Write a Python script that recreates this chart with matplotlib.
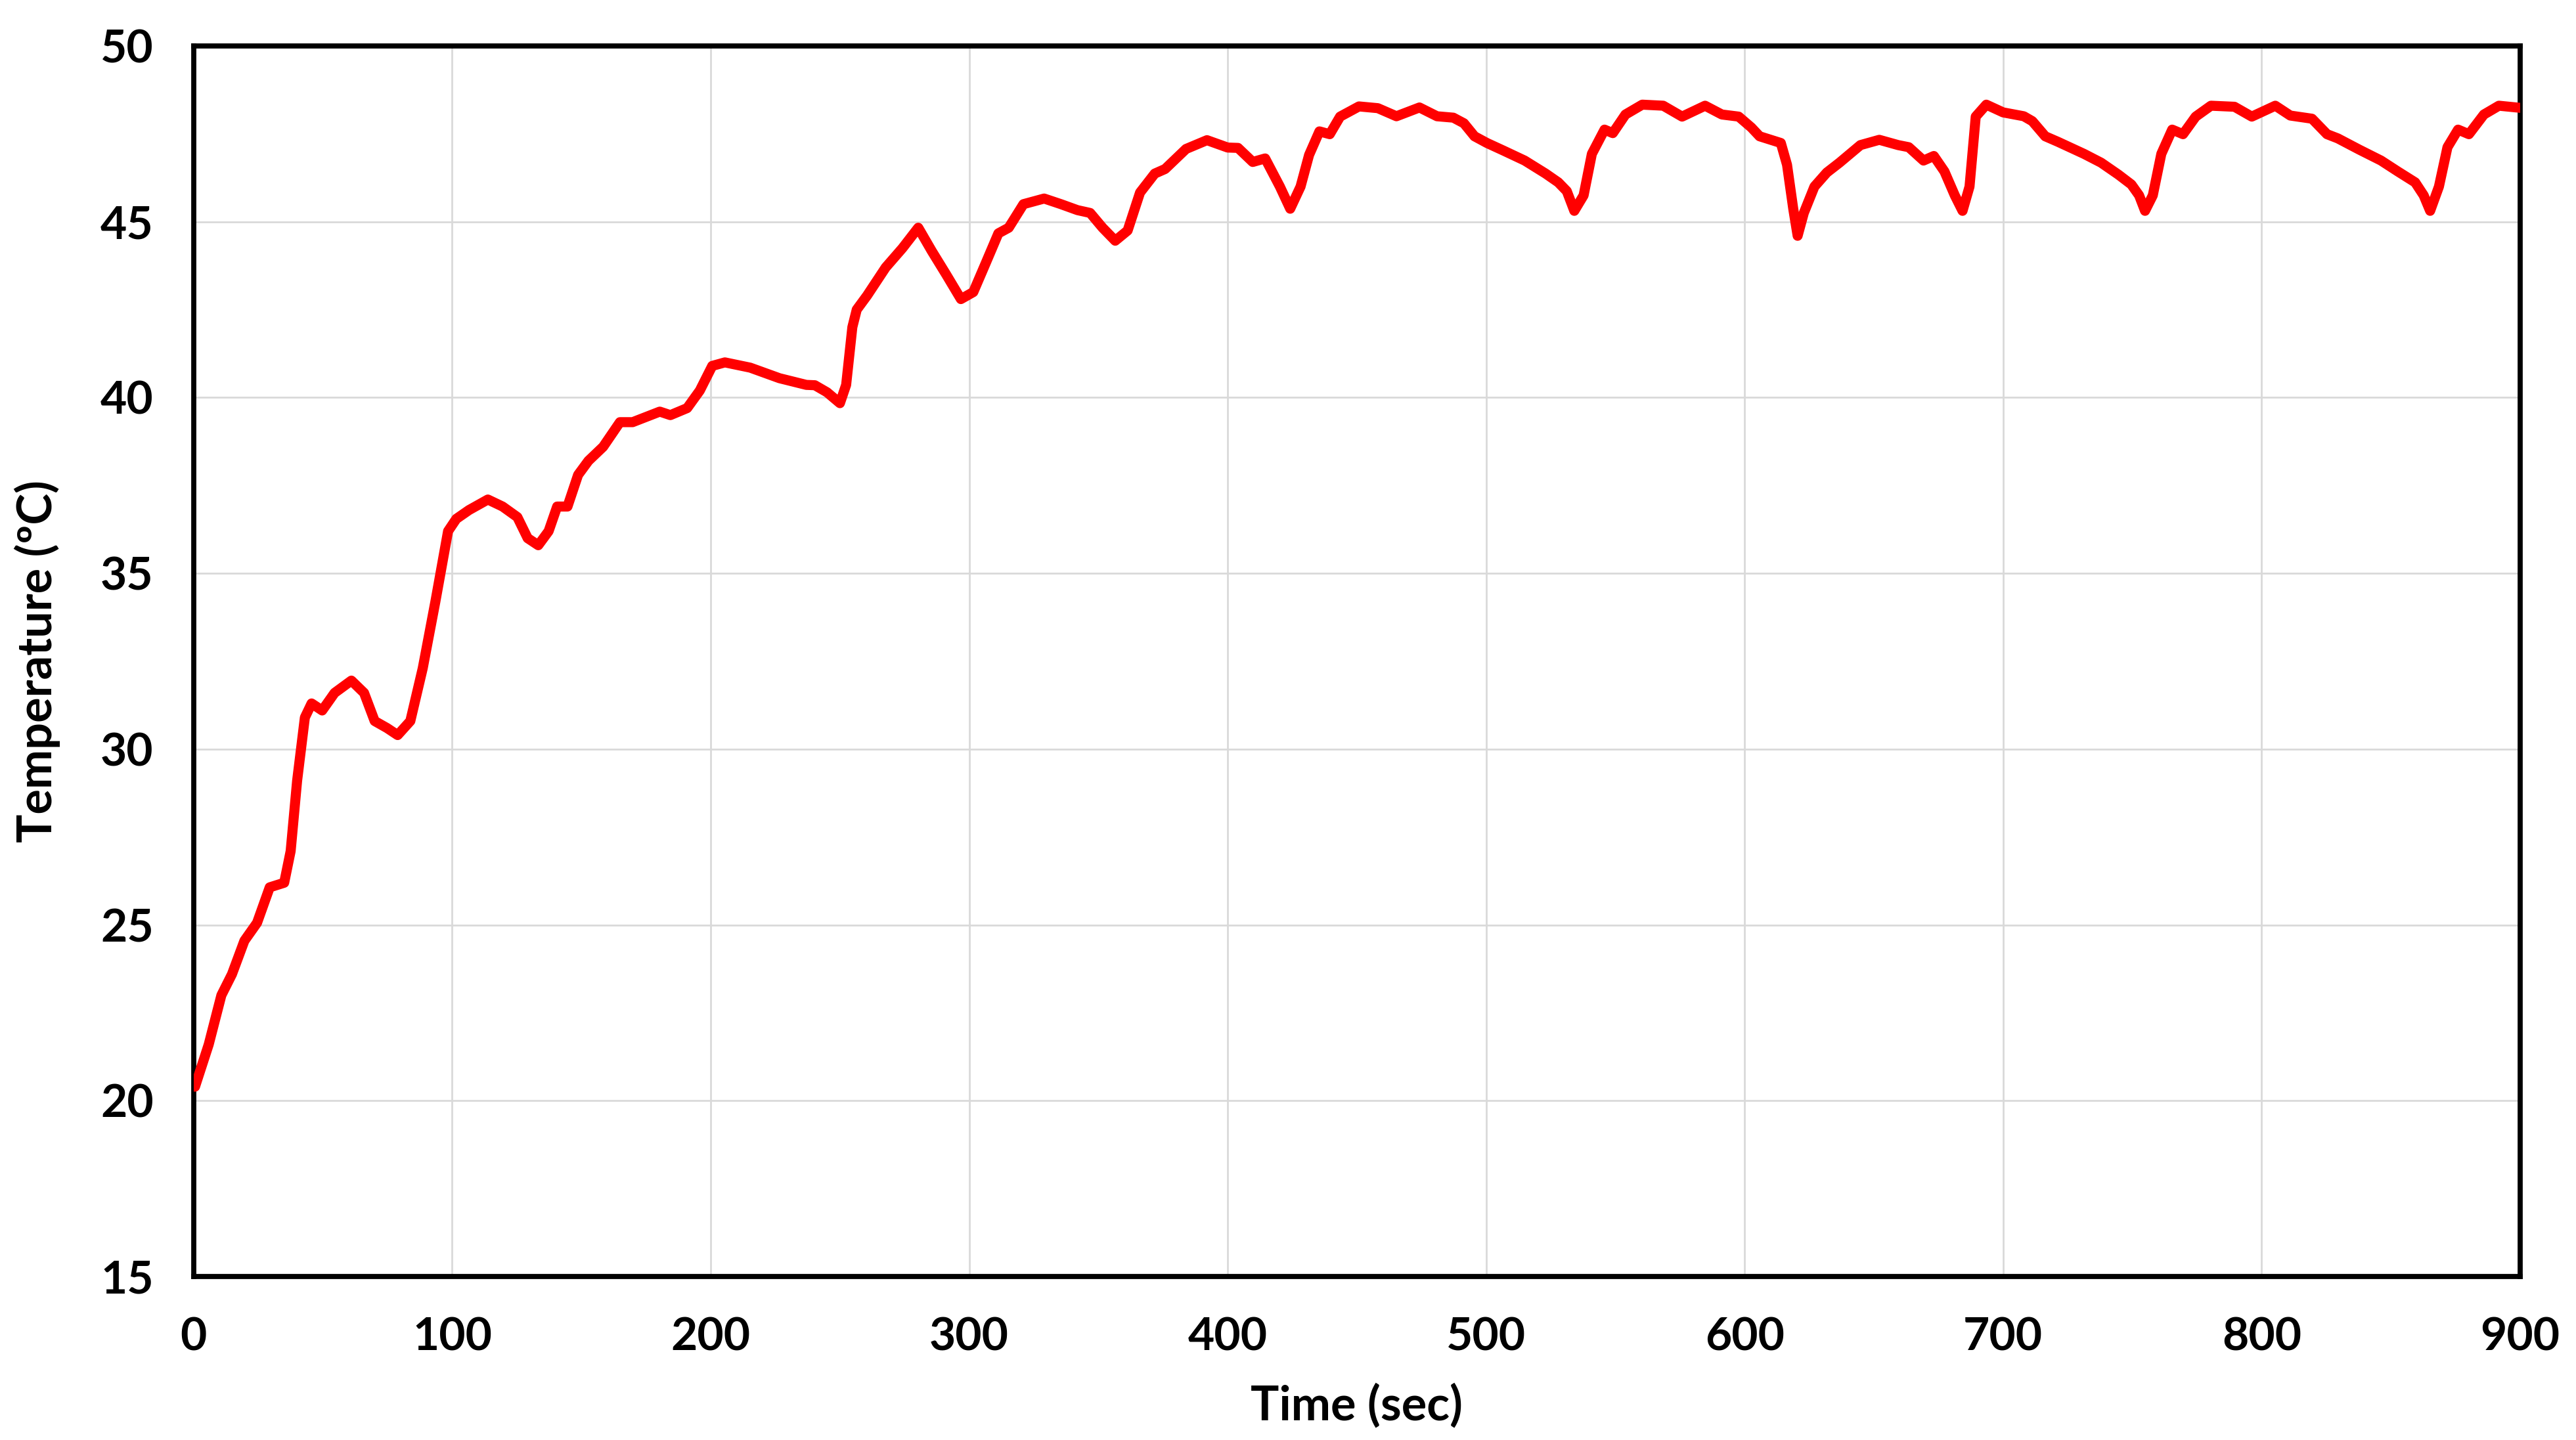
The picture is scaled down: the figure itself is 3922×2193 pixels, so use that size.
import matplotlib.pyplot as plt

# Temperature log (seconds, deg C)
time_sec = [
    0.5, 5.8, 10.7, 14.8, 19.6, 24.5, 29.4, 35.0, 37.5, 40.0,
    43.0, 45.6, 49.7, 54.5, 61.0, 65.9, 70.0, 74.8, 78.9, 83.8,
    88.6, 93.5, 98.4, 101.6, 106.5, 113.8, 119.5, 125.2, 129.2, 133.3,
    137.3, 140.6, 144.6, 148.7, 152.7, 158.4, 164.9, 169.8, 180.3, 184.4,
    190.9, 195.8, 200.6, 205.5, 215.3, 226.6, 237.0, 240.3, 245.0, 250.0,
    252.4, 254.8, 256.5, 260.5, 267.7, 274.2, 280.3, 285.5, 291.1, 296.8,
    301.6, 306.5, 311.3, 315.3, 321.0, 329.0, 335.5, 341.9, 346.8, 351.6,
    356.5, 361.3, 366.1, 371.8, 375.8, 383.9, 392.0, 400.0, 404.0, 409.7,
    414.5, 420.2, 424.2, 428.2, 431.5, 435.5, 439.5, 443.5, 450.8, 458.1,
    465.3, 474.2, 481.0, 487.3, 491.4, 495.5, 500.3, 506.8, 514.9, 523.0,
    527.9, 531.2, 534.1, 537.7, 540.9, 545.8, 549.0, 553.9, 560.4, 568.5,
    575.8, 584.7, 591.2, 597.7, 602.6, 605.8, 614.0, 616.4, 618.8, 620.5,
    622.9, 627.0, 631.8, 636.7, 644.8, 652.1, 659.4, 663.5, 669.2, 673.2,
    677.3, 681.3, 684.3, 687.0, 689.4, 693.5, 700.0, 708.0, 711.3, 716.3,
    721.3, 731.3, 737.9, 744.6, 749.6, 752.6, 754.9, 757.9, 761.2, 765.4,
    769.6, 774.5, 780.4, 789.5, 796.2, 805.3, 811.1, 819.5, 825.3, 829.5,
    837.8, 846.2, 852.7, 859.4, 862.7, 865.2, 868.6, 871.9, 876.0, 880.2,
    886.0, 891.8, 900.0,
]
temperature = [
    20.4, 21.6, 23.0, 23.6, 24.55, 25.06, 26.07, 26.2, 27.1, 29.1,
    30.9, 31.3, 31.1, 31.6, 31.95, 31.6, 30.8, 30.6, 30.4, 30.8,
    32.3, 34.2, 36.2, 36.55, 36.8, 37.1, 36.9, 36.6, 36.0, 35.8,
    36.2, 36.9, 36.9, 37.8, 38.2, 38.6, 39.3, 39.3, 39.6, 39.5,
    39.7, 40.2, 40.9, 41.0, 40.85, 40.55, 40.36, 40.35, 40.15, 39.84,
    40.36, 42.0, 42.5, 42.9, 43.7, 44.25, 44.83, 44.17, 43.5, 42.8,
    43.0, 43.84, 44.67, 44.83, 45.5, 45.66, 45.5, 45.33, 45.25, 44.83,
    44.46, 44.75, 45.83, 46.37, 46.5, 47.07, 47.32, 47.11, 47.1, 46.7,
    46.8, 46.0, 45.37, 46.0, 46.9, 47.57, 47.49, 47.99, 48.28, 48.23,
    48.0, 48.25, 48.0, 47.96, 47.8, 47.43, 47.24, 47.02, 46.74, 46.37,
    46.12, 45.87, 45.31, 45.75, 46.93, 47.62, 47.52, 48.05, 48.33, 48.3,
    47.99, 48.3, 48.05, 47.99, 47.68, 47.43, 47.24, 46.62, 45.37, 44.6,
    45.25, 46.0, 46.4, 46.68, 47.18, 47.33, 47.18, 47.12, 46.74, 46.87,
    46.43, 45.75, 45.31, 46.0, 47.99, 48.33, 48.11, 48.0, 47.86, 47.43,
    47.27, 46.93, 46.68, 46.34, 46.06, 45.75, 45.31, 45.75, 46.93, 47.62,
    47.49, 47.99, 48.3, 48.27, 47.99, 48.3, 48.02, 47.93, 47.49, 47.37,
    47.05, 46.74, 46.43, 46.12, 45.75, 45.31, 46.0, 47.12, 47.62, 47.49,
    48.05, 48.3, 48.24,
]

x_ticks = list(range(0, 901, 100))
y_ticks = list(range(15, 51, 5))

plt.rcParams['font.family'] = ['Lato', 'DejaVu Sans']

fig = plt.figure(figsize=(19.61, 10.965), dpi=200)
ax = fig.add_axes([0.0752, 0.1135, 0.9031, 0.8546])

ax.plot(time_sec, temperature, color='#ff0000', linewidth=5.5,
        solid_joinstyle='round', solid_capstyle='round', zorder=3)

ax.set_xlim(0, 900)
ax.set_ylim(15, 50)
ax.set_xticks(x_ticks)
ax.set_yticks(y_ticks)
ax.grid(True, color='#d9d9d9', linewidth=1.0, zorder=0)
ax.set_axisbelow(True)

for side in ax.spines.values():
    side.set_linewidth(2.8)
    side.set_color('black')

ax.tick_params(axis='both', length=0, labelsize=25, pad=22)
for lab in ax.get_xticklabels() + ax.get_yticklabels():
    lab.set_fontweight('bold')

ax.set_xlabel('Time (sec)', fontsize=26, fontweight='bold', labelpad=14)
ax.set_ylabel('Temperature (ºC)', fontsize=26, fontweight='bold', labelpad=22)

fig.savefig('out.png', dpi=200, facecolor='white')
